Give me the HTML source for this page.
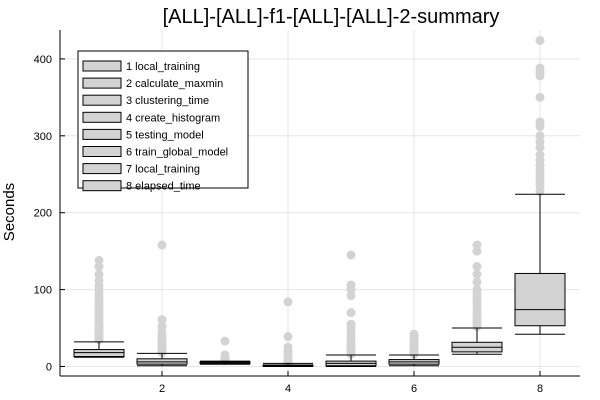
<!DOCTYPE html>
<html><head><meta charset="utf-8"><style>
html,body{margin:0;padding:0;background:#fff;}
svg{display:block;font-family:"Liberation Sans",sans-serif;}
</style></head><body>
<svg id="chart" width="600" height="400">
<text x="331" y="23" font-size="20" text-anchor="middle">[ALL]-[ALL]-f1-[ALL]-[ALL]-2-summary</text>
<text transform="translate(14,212) rotate(-90)" font-size="15" text-anchor="middle">Seconds</text>
<g id="grid"></g><g id="boxes"></g><g id="axes"></g><g id="legend"></g>
</svg>
<script>
const categories=[1,2,3,4,5,6,7,8];
const seriesNames=["1 local_training","2 calculate_maxmin","3 clustering_time","4 create_histogram","5 testing_model","6 train_global_model","7 local_training","8 elapsed_time"];
const whiskerLow=[12,1,3,0,0,1,16,42];
const q1=[13,3,4,0.5,1,3,19,53];
const median=[18,6,5,1,4,6,25,74];
const q3=[22,10,6,2,7,9,31.5,121];
const whiskerHigh=[32,17,7,4,15,15,50,224];
const outliers=[
 [35,38,40,42,45,48,50,53,56,60,63,66,70,74,78,82,86,90,95,100,105,112,120,130,138],
 [18,20,22,25,28,30,33,36,40,45,52,61,158],
 [8,10,12,15,33],
 [5,7,9,12,15,20,25,39,84],
 [16,18,20,23,26,30,35,40,45,50,55,70,92,100,106,145],
 [16,18,20,22,25,28,31,34,37,40,42],
 [52,55,58,62,66,70,75,80,85,90,95,100,110,120,130,150,158],
 [228,235,240,245,250,256,262,268,275,285,292,300,312,318,350,378,383,388,424]
];
const yTicks=[0,100,200,300,400];
const xTicks=[2,4,6,8];
const NS="http://www.w3.org/2000/svg";
const L=60,R=580,T=30,B=376;
const xS=v=>162+(v-2)*63;
const yS=v=>366.5-v*0.769;
function mk(tag,attrs,parent){const e=document.createElementNS(NS,tag);for(const k in attrs)e.setAttribute(k,attrs[k]);parent.appendChild(e);return e;}
const grid=document.getElementById('grid'),boxes=document.getElementById('boxes'),axes=document.getElementById('axes'),legend=document.getElementById('legend');
yTicks.forEach(t=>{
 const g=mk('line',{x1:L,x2:R,y1:yS(t),y2:yS(t),stroke:'#e6e6e6','stroke-width':1},grid);
 
 
 mk('line',{x1:L,x2:L+5,y1:yS(t),y2:yS(t),stroke:'#000'},axes);
 const tx=mk('text',{x:52,y:yS(t)+4,'font-size':11,'text-anchor':'end'},axes);tx.textContent=t;
 
 
});
xTicks.forEach(t=>{
 const g=mk('line',{x1:xS(t),x2:xS(t),y1:T,y2:B,stroke:'#e6e6e6'},grid);
 
 
 mk('line',{x1:xS(t),x2:xS(t),y1:B,y2:B-5,stroke:'#000'},axes);
 const tx=mk('text',{x:xS(t),y:B+16,'font-size':11,'text-anchor':'middle'},axes);tx.textContent=t;
 
 
});
mk('line',{x1:L,x2:L,y1:T,y2:B,stroke:'#000'},axes);
mk('line',{x1:L,x2:R,y1:B,y2:B,stroke:'#000'},axes);
const hw=25;
categories.forEach((c,i)=>{
 const x=xS(c);
 const g=mk('g',{},boxes);
 
 
 outliers[i].forEach(v=>{
  const o=mk('circle',{cx:x,cy:yS(v),r:4.5,fill:'#d3d3d3'},g);
  
  
 });
 mk('line',{x1:x,x2:x,y1:yS(whiskerLow[i]),y2:yS(whiskerHigh[i]),stroke:'#000'},g);
 mk('line',{x1:x-hw,x2:x+hw,y1:yS(whiskerHigh[i]),y2:yS(whiskerHigh[i]),stroke:'#000'},g);
 mk('line',{x1:x-hw,x2:x+hw,y1:yS(whiskerLow[i]),y2:yS(whiskerLow[i]),stroke:'#000'},g);
 mk('rect',{x:x-hw,y:yS(q3[i]),width:2*hw,height:Math.max(yS(q1[i])-yS(q3[i]),1),fill:'#d3d3d3',stroke:'#000'},g);
 mk('line',{x1:x-hw,x2:x+hw,y1:yS(median[i]),y2:yS(median[i]),stroke:'#000'},g);
});
mk('rect',{x:78,y:51,width:170,height:137,fill:'#fff',stroke:'#000'},legend);
seriesNames.forEach((n,i)=>{
 const y=61+i*17.1;
 const sw=mk('rect',{x:83,y:y,width:38,height:10,fill:'#d3d3d3',stroke:'#000'},legend);
 
 
 const t=mk('text',{x:126,y:y+9,'font-size':11},legend);t.textContent=n;
 
 
});
</script>
</body></html>
